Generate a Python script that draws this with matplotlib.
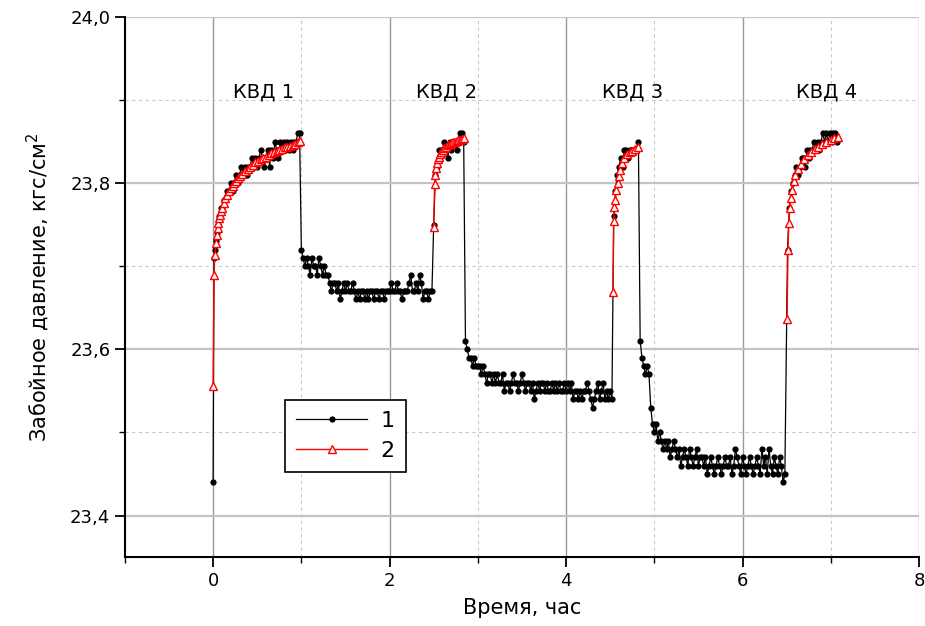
import numpy as np
import matplotlib
matplotlib.use("Agg")
import matplotlib.pyplot as plt
from matplotlib.ticker import MultipleLocator, FuncFormatter

plt.rcParams['font.family'] = ['DejaVu Sans']
plt.rcParams['mathtext.fontset'] = 'custom'
plt.rcParams['mathtext.rm'] = 'DejaVu Sans'

# --------------------------------------
# data
# --------------------------------------
# measured record (curve 1): (start time h, step h, pressure in hundredths above 23 kgf/cm2)
rec_kvd1_a = (0.00, 0.01, [44, 71, 72, 73, 74, 75, 75, 76, 76, 77, 77])
rec_kvd1_b = (0.12, 0.02, [78, 78, 79, 79, 80, 79, 80, 81, 80, 81, 82, 81, 82, 81, 82, 82,
                           83, 82, 83, 82, 83, 84, 83, 82, 83, 84, 82, 84, 83, 85, 84, 83,
                           85, 84, 85, 84, 85, 84, 85, 84, 85, 85, 86, 86])
rec_rest1 = (1.00, 0.02, [72, 71, 70, 71, 70, 69, 71, 70, 70, 69, 71, 70, 69, 70, 69, 69,
                          68, 67, 68, 68, 67, 68, 66, 67, 68, 67, 68, 67, 67, 68, 67, 66,
                          67, 66, 67, 67, 66, 67, 66, 67, 67, 66, 67, 67, 66, 67, 67, 66,
                          67, 67, 67, 68, 67, 67, 68, 67, 67, 66, 67, 67, 67, 68, 69, 67,
                          67, 68, 67, 69, 68, 66, 67, 67, 66, 67, 67])
rec_kvd2 = (2.50, 0.02, [75, 81, 82, 84, 84, 84, 85, 84, 83, 85, 84, 85, 85, 84, 85, 86,
                         86, 85])
rec_rest2 = (2.86, 0.02, [61, 60, 59, 59, 58, 59, 58, 58, 58, 57, 58, 57, 56, 57, 57, 56,
                          57, 56, 57, 56, 56, 57, 55, 56, 56, 55, 56, 57, 56, 56, 55, 56,
                          57, 56, 55, 56, 56, 55, 56, 54, 55, 56, 55, 56, 56, 55, 56, 55,
                          55, 56, 55, 56, 55, 56, 55, 55, 56, 55, 56, 55, 56, 54, 55, 55,
                          54, 55, 54, 55, 55, 56, 55, 54, 53, 54, 55, 56, 54, 55, 56, 54,
                          55, 54, 55, 54])
rec_kvd3 = (4.54, 0.02, [76, 79, 81, 82, 83, 82, 84, 84, 83, 84, 84, 84, 84, 84, 85])
rec_rest3 = (4.84, 0.02, [61, 59, 58, 57, 58, 57, 53, 51, 50, 51, 49, 50, 49, 48, 49, 48,
                          49, 47, 48, 49, 48, 47, 48, 46, 47, 48, 47, 46, 48, 47, 46, 47,
                          48, 46, 47, 47, 46, 47, 45, 46, 47, 46, 45, 46, 47, 46, 45, 46,
                          47, 46, 46, 47, 45, 46, 48, 47, 46, 45, 47, 46, 45, 46, 47, 46,
                          45, 46, 47, 46, 45, 48, 46, 47, 45, 48, 46, 45, 47, 46, 45, 47,
                          46, 44, 45])
rec_kvd4 = (6.51, 0.02, [72, 77, 79, 80, 81, 82, 81, 82, 83, 83, 82, 84, 83, 84, 84, 85,
                         84, 85, 84, 85, 86, 85, 86, 85, 86, 85, 86, 86, 85])
record = [rec_kvd1_a, rec_kvd1_b, rec_rest1, rec_kvd2, rec_rest2, rec_kvd3, rec_rest3, rec_kvd4]

# pressure build-up curves (curve 2)
kvd1_t = [0.00, 0.01, 0.02, 0.03, 0.04, 0.05, 0.06, 0.07, 0.08, 0.09, 0.10, 0.12, 0.14,
          0.16, 0.18, 0.20, 0.22, 0.24, 0.26, 0.28, 0.30, 0.33, 0.36, 0.39, 0.42, 0.45,
          0.48, 0.51, 0.54, 0.57, 0.60, 0.63, 0.66, 0.69, 0.72, 0.75, 0.78, 0.81, 0.84,
          0.87, 0.90, 0.93, 0.96, 0.99]
kvd1_p = [23.556, 23.690, 23.714, 23.728, 23.738, 23.746, 23.752, 23.758, 23.762, 23.766,
          23.770, 23.776, 23.782, 23.786, 23.790, 23.794, 23.797, 23.800, 23.803, 23.806,
          23.808, 23.811, 23.815, 23.817, 23.820, 23.822, 23.825, 23.827, 23.829, 23.830,
          23.832, 23.834, 23.836, 23.837, 23.839, 23.840, 23.841, 23.843, 23.844, 23.845,
          23.846, 23.847, 23.849, 23.851]
kvd2_t = [2.500, 2.510, 2.520, 2.530, 2.540, 2.550, 2.560, 2.570, 2.580, 2.600, 2.620,
          2.640, 2.660, 2.680, 2.700, 2.720, 2.740, 2.760, 2.780, 2.800, 2.820, 2.840]
kvd2_p = [23.747, 23.799, 23.810, 23.818, 23.824, 23.829, 23.832, 23.835, 23.837, 23.840,
          23.842, 23.844, 23.846, 23.847, 23.848, 23.849, 23.850, 23.851, 23.852, 23.852,
          23.853, 23.854]
kvd3_t = [4.533, 4.540, 4.548, 4.559, 4.570, 4.585, 4.600, 4.615, 4.635, 4.660, 4.690,
          4.720, 4.750, 4.785, 4.820]
kvd3_p = [23.669, 23.755, 23.771, 23.780, 23.792, 23.800, 23.808, 23.816, 23.824, 23.830,
          23.835, 23.837, 23.839, 23.841, 23.843]
kvd4_t = [6.505, 6.515, 6.525, 6.535, 6.545, 6.560, 6.580, 6.600, 6.630, 6.660, 6.700,
          6.740, 6.780, 6.820, 6.860, 6.900, 6.950, 7.000, 7.040, 7.080]
kvd4_p = [23.636, 23.720, 23.752, 23.770, 23.782, 23.792, 23.802, 23.810, 23.817, 23.823,
          23.829, 23.834, 23.838, 23.841, 23.844, 23.847, 23.850, 23.852, 23.854, 23.855]
buildups = [(kvd1_t, kvd1_p), (kvd2_t, kvd2_p), (kvd3_t, kvd3_p), (kvd4_t, kvd4_p)]

kvd_labels = ['КВД 1', 'КВД 2', 'КВД 3', 'КВД 4']
kvd_label_t = [0.57, 2.65, 4.75, 6.95]
kvd_label_p = 23.91

# --------------------------------------
# plot
# --------------------------------------
rec_t = []
rec_p = []
for t0, dt, vals in record:
    for i, v in enumerate(vals):
        rec_t.append(t0 + dt * i)
        rec_p.append(23 + v / 100)

fig = plt.figure(figsize=(9.25, 6.26), dpi=100)
ax = fig.add_axes([0.135, 0.110, 0.8585, 0.863])

ax.plot(rec_t, rec_p, color='black', lw=0.9, marker='o', ms=4.5, mew=0,
        label='1', zorder=3)
for i, (t, p) in enumerate(buildups):
    ax.plot(t, p, color='red', lw=1.0, marker='^', ms=6, mfc='white', mec='red',
            mew=1.0, label='2' if i == 0 else None, zorder=4)

for lab, t in zip(kvd_labels, kvd_label_t):
    ax.text(t, kvd_label_p, lab, ha='center', va='center', fontsize=14)

ax.set_xlim(-1, 8)
ax.set_ylim(23.35, 24.0)
ax.xaxis.set_major_locator(MultipleLocator(2))
ax.xaxis.set_minor_locator(MultipleLocator(1))
ax.yaxis.set_major_locator(MultipleLocator(0.2))
ax.yaxis.set_minor_locator(MultipleLocator(0.1))
ax.yaxis.set_major_formatter(FuncFormatter(lambda v, pos: f'{v:.1f}'.replace('.', ',')))

ax.grid(which='major', axis='y', color='#c4c4c4', lw=1.6)
ax.grid(which='major', axis='x', color='#999999', lw=1.0)
ax.grid(which='minor', color='#c8c8c8', lw=0.8, ls=(0, (3, 3)))
ax.set_axisbelow(True)

for s in ['top', 'right']:
    ax.spines[s].set_visible(False)
for s in ['left', 'bottom']:
    ax.spines[s].set_linewidth(1.5)
ax.tick_params(which='major', direction='out', length=7, width=1.3, labelsize=13)
ax.tick_params(which='minor', direction='out', length=4, width=1.0)

ax.set_xlabel('Время, час', fontsize=15, labelpad=6)
ax.set_ylabel('Забойное давление, кгс/см$^2$', fontsize=15, labelpad=14)

leg = ax.legend(loc='upper left', bbox_to_anchor=(0.2015, 0.2907), fontsize=16,
                handlelength=3.2, numpoints=1, fancybox=False, framealpha=1,
                edgecolor='black', borderpad=0.5, labelspacing=0.45,
                borderaxespad=0, handletextpad=0.6)
leg.get_frame().set_linewidth(1.2)

fig.savefig('out.png', dpi=100)
